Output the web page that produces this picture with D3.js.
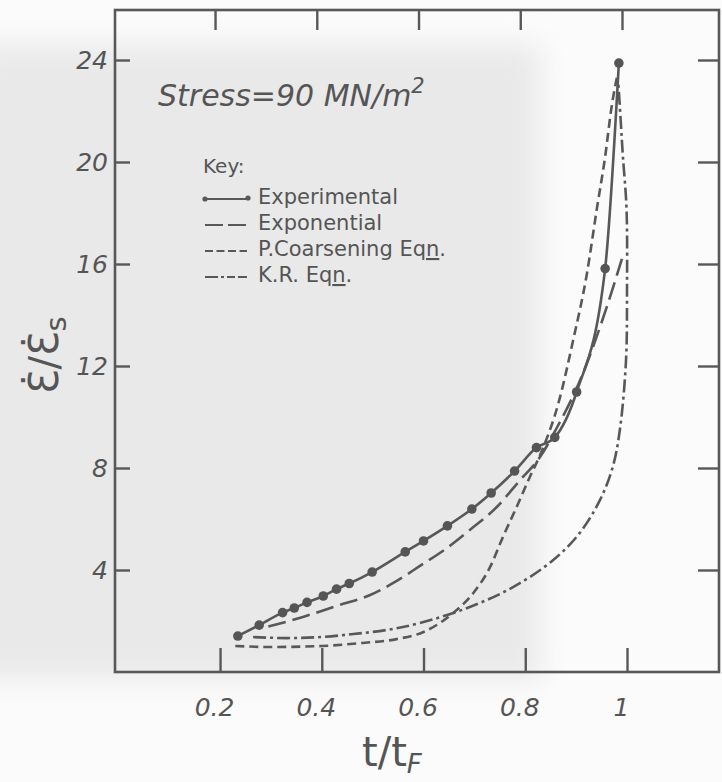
<!DOCTYPE html>
<html>
<head>
<meta charset="utf-8">
<script src="https://cdn.jsdelivr.net/npm/d3@7"></script>
<style>
  html, body { margin: 0; padding: 0; background: #fbfbfb; }
  svg { display: block; }
  text { fill: #555; font-family: "DejaVu Sans", sans-serif; }
</style>
</head>
<body>
<svg id="chart" width="722" height="782"></svg>
<script>
// ---------------- data ----------------
const xTicks = [0.2, 0.4, 0.6, 0.8, 1];
const xTickLabels = ["0.2", "0.4", "0.6", "0.8", "1"];
const yTicks = [4, 8, 12, 16, 20, 24];
const yTickLabels = ["4", "8", "12", "16", "20", "24"];

// Experimental points (t/tF, strain-rate ratio)
const expT = [0.235, 0.277, 0.323, 0.346, 0.371, 0.403, 0.429, 0.454, 0.499, 0.564,
              0.600, 0.647, 0.695, 0.733, 0.779, 0.822, 0.858, 0.901, 0.957, 0.984];
const expV = [1.41, 1.84, 2.33, 2.51, 2.73, 2.98, 3.25, 3.47, 3.92, 4.71,
              5.14, 5.73, 6.39, 7.02, 7.88, 8.80, 9.20, 10.98, 15.82, 23.88];

// Exponential fit
const exponT = [0.295, 0.363, 0.429, 0.495, 0.544, 0.593, 0.646, 0.691, 0.744, 0.790,
                0.829, 0.860, 0.908, 0.960, 0.990];
const exponV = [1.78, 2.16, 2.59, 3.02, 3.53, 4.16, 4.86, 5.57, 6.47, 7.53,
                8.43, 9.50, 11.45, 14.30, 16.20];

// Particle coarsening equation
const pcT = [0.230, 0.300, 0.400, 0.480, 0.547, 0.600, 0.658, 0.698, 0.731, 0.756,
             0.783, 0.809, 0.830, 0.866, 0.894, 0.921, 0.941, 0.957, 0.970, 0.980];
const pcV = [1.02, 0.98, 1.02, 1.14, 1.29, 1.57, 2.31, 3.10, 4.12, 5.29,
             6.47, 7.65, 8.55, 10.60, 13.00, 15.60, 18.20, 20.20, 22.20, 23.30];

// K.R. equation
const krT = [0.265, 0.331, 0.397, 0.462, 0.528, 0.593, 0.691, 0.776, 0.855, 0.907,
             0.947, 0.972, 0.986, 0.998, 1.000, 0.999, 0.992, 0.988, 0.983];
const krV = [1.37, 1.33, 1.37, 1.49, 1.65, 1.92, 2.55, 3.33, 4.39, 5.45,
             6.75, 8.04, 9.50, 12.20, 14.90, 18.20, 20.20, 21.50, 23.10];

const legendLabels = ["Experimental", "Exponential", "P.Coarsening Eq", "K.R. Eq"];

// ---------------- layout ----------------
const svg = d3.select("#chart");
const frame = { left: 115, top: 10, right: 719, bottom: 672 };
const ink = "#585858";

const x = d3.scaleLinear().domain([0, 1]).range([118.3, 627]);
const y = d3.scaleLinear().domain([0, 26]).range([672, 9]);

// scanned-paper grey patch on the left
const defs = svg.append("defs");
defs.append("filter").attr("id", "soft").attr("x", "-20%").attr("y", "-20%")
  .attr("width", "140%").attr("height", "140%")
  .append("feGaussianBlur").attr("stdDeviation", 14);
svg.append("rect").attr("x", -30).attr("y", 45).attr("width", 570).attr("height", 635)
  .attr("fill", "#e9e9e9").attr("filter", "url(#soft)");

// frame
svg.append("rect")
  .attr("x", frame.left).attr("y", frame.top)
  .attr("width", frame.right - frame.left).attr("height", frame.bottom - frame.top)
  .attr("fill", "none").attr("stroke", ink).attr("stroke-width", 2.6);

function styleAxis(g) {
  g.select(".domain").remove();
  g.selectAll(".tick line").attr("stroke", ink).attr("stroke-width", 2.4);
}

// bottom axis
svg.append("g").attr("transform", `translate(0,${frame.bottom})`)
  .call(d3.axisBottom(x).tickValues(xTicks).tickSize(-24).tickSizeOuter(0).tickPadding(26)
        .tickFormat((d, i) => xTickLabels[i]))
  .call(styleAxis)
  .call(g => g.selectAll(".tick text")
      .attr("fill", "#555").attr("font-size", 25).attr("font-style", "italic")
      .attr("font-family", "DejaVu Sans, sans-serif").attr("dx", -6));

// top axis (ticks only)
svg.append("g").attr("transform", `translate(-5,${frame.top})`)
  .call(d3.axisTop(x).tickValues(xTicks).tickSize(-20).tickSizeOuter(0).tickFormat(""))
  .call(styleAxis);

// left axis
svg.append("g").attr("transform", `translate(${frame.left},0)`)
  .call(d3.axisLeft(y).tickValues(yTicks).tickSize(-15).tickSizeOuter(0).tickPadding(7)
        .tickFormat((d, i) => yTickLabels[i]))
  .call(styleAxis)
  .call(g => g.selectAll(".tick text")
      .attr("fill", "#555").attr("font-size", 25).attr("font-style", "italic")
      .attr("font-family", "DejaVu Sans, sans-serif"));

// right axis (ticks only)
svg.append("g").attr("transform", `translate(${frame.right},0)`)
  .call(d3.axisRight(y).tickValues(yTicks).tickSize(-21).tickSizeOuter(0).tickFormat(""))
  .call(styleAxis);

// ---------------- curves ----------------
const zip = (a, b) => a.map((v, i) => [v, b[i]]);
const lineMono = d3.line().x(d => x(d[0])).y(d => y(d[1])).curve(d3.curveMonotoneX);
const lineCR = d3.line().x(d => x(d[0])).y(d => y(d[1])).curve(d3.curveCatmullRom.alpha(0.5));

const curveStyle = (p, dash) => p.attr("fill", "none").attr("stroke", ink)
  .attr("stroke-width", 2.6).attr("stroke-linecap", "butt")
  .attr("stroke-dasharray", dash);

svg.append("path").datum(zip(pcT, pcV)).attr("d", lineMono).call(curveStyle, "9,5");
svg.append("path").datum(zip(krT, krV)).attr("d", lineCR).call(curveStyle, "13,4,3,4");
svg.append("path").datum(zip(exponT, exponV)).attr("d", lineMono).call(curveStyle, "18,7");
svg.append("path").datum(zip(expT, expV)).attr("d", lineMono).call(curveStyle, null);

svg.append("g").selectAll("circle").data(zip(expT, expV)).join("circle")
  .attr("cx", d => x(d[0])).attr("cy", d => y(d[1])).attr("r", 4.8)
  .attr("fill", "#555");

// ---------------- title ----------------
const title = svg.append("text").attr("x", 158).attr("y", 106)
  .attr("font-size", 30).attr("font-style", "italic");
title.append("tspan").text("Stress=90 MN/m");
title.append("tspan").attr("dy", -13).attr("font-size", 21).text("2");

// ---------------- legend ----------------
const lg = svg.append("g");
lg.append("text").attr("x", 203).attr("y", 173).attr("font-size", 20).text("Key:");
const rowY = [204, 230, 256, 282];
const dashes = [null, "18,5", "8,3.5", "13,3,3,3,8,3"];
legendLabels.forEach((lab, i) => {
  const yy = rowY[i] - 5;
  lg.append("line").attr("x1", 205).attr("x2", 247).attr("y1", yy).attr("y2", yy)
    .attr("stroke", ink).attr("stroke-width", 2.2)
    .attr("stroke-dasharray", dashes[i]);
  if (i === 0) {
    lg.append("circle").attr("cx", 205).attr("cy", yy).attr("r", 2.6).attr("fill", ink);
    lg.append("circle").attr("cx", 248).attr("cy", yy - 1).attr("r", 2.6).attr("fill", ink);
  }
  const t = lg.append("text").attr("x", 258).attr("y", rowY[i]).attr("font-size", 21);
  t.append("tspan").text(lab);
  if (i >= 2) {
    t.append("tspan").attr("text-decoration", "underline").style("text-decoration", "underline").text("n");
    t.append("tspan").text(".");
  }
});

// ---------------- axis titles ----------------
const xt = svg.append("text").attr("x", 362).attr("y", 766).attr("font-size", 40);
xt.append("tspan").text("t/t");
xt.append("tspan").attr("dy", 7).attr("font-size", 26).attr("font-style", "italic").text("F");

const yt = svg.append("text").attr("transform", "translate(58,394) rotate(-90)")
  .attr("font-size", 40);
yt.append("tspan").text("\u0190\u0307/\u0190\u0307");
yt.append("tspan").attr("dy", 8).attr("font-size", 29).text("s");
</script>
</body>
</html>
